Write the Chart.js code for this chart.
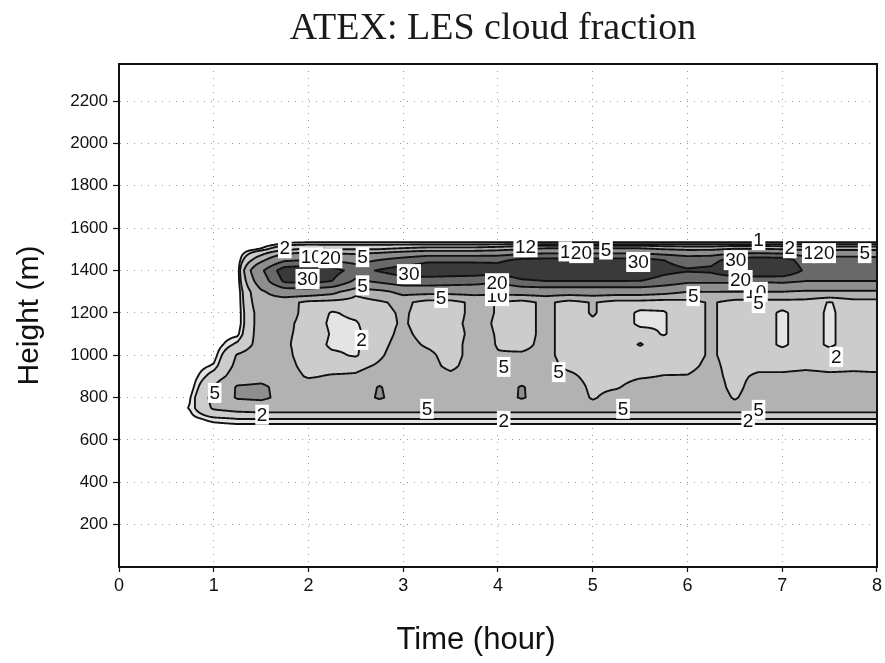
<!DOCTYPE html>
<html>
<head>
<meta charset="utf-8">
<title>ATEX: LES cloud fraction</title>
<script src="https://cdn.jsdelivr.net/npm/chart.js@4.4.1/dist/chart.umd.min.js"></script>
<style>
  html, body { margin: 0; padding: 0; background: #fff; }
</style>
</head>
<body>
<canvas id="cfChart" width="885" height="663"></canvas>
<script>
// LES output times (hour)
const timesHr = [0.5, 0.75, 1, 1.25, 1.5, 1.75, 2, 2.25, 2.5, 2.75, 3, 3.25, 3.5, 3.75, 4,
  4.25, 4.5, 4.75, 5, 5.25, 5.5, 5.75, 6, 6.25, 6.5, 6.75, 7, 7.25, 7.5, 7.75, 8];

// model levels (m)
const heightsM = [650, 700, 750, 800, 850, 900, 950, 1000, 1050, 1100, 1150, 1200,
  1250, 1300, 1350, 1400, 1450, 1500, 1525, 1550];

// cloud fraction (%), one column per time, levels bottom -> top
const cloudFraction = [
  [0, 0, 0, 0, 0, 0, 0, 0, 0, 0, 0, 0, 0, 0, 0, 0, 0, 0, 0, 0],
  [0, 0.5, 1.1, 0.9, 0.2, 0, 0, 0, 0, 0, 0, 0, 0, 0, 0, 0, 0, 0, 0, 0],
  [0, 1.5, 5.5, 6.2, 5.2, 3, 1.2, 0.3, 0, 0, 0, 0, 0, 0, 0, 0, 0, 0, 0, 0],
  [0, 2, 6.5, 10.5, 10.5, 7, 6, 5.3, 2.5, 0.6, 0, 0, 0, 0, 0, 0, 0, 0, 0, 0],
  [0, 2, 7, 11, 11, 8, 7, 7, 6.5, 7, 7, 7, 8, 9, 14, 18, 8, 1.2, 0, 0],
  [0, 2, 7, 8.5, 8, 7, 6.5, 6, 5.5, 5.5, 6, 7, 6.5, 14, 32, 36, 18, 4, 1.3, 0],
  [0, 2, 7, 8, 7.5, 4.5, 3.5, 3, 3.5, 4, 3.5, 3.5, 4, 14, 34, 38, 20, 6, 1.5, 0],
  [0, 2, 7, 8, 7, 5.5, 3, 2.5, 1.5, 1.7, 1.5, 1.8, 3.5, 12, 30, 34, 18, 5, 1.5, 0],
  [0, 2, 7, 8, 7.5, 5.5, 4, 1.7, 1.6, 1.5, 1.8, 2.5, 3.5, 6, 18, 26, 16, 5, 1.5, 0],
  [0, 2, 7, 10.5, 10.3, 7, 5.5, 4.5, 4, 3.5, 3.5, 4, 4.5, 8, 22, 31, 20, 5, 1.5, 0],
  [0, 2, 7, 8, 7.5, 7, 7, 7, 6.5, 6, 5.5, 5.5, 6, 12, 26, 35, 24, 6, 1.5, 0],
  [0, 2, 7, 8, 7.5, 7, 6.5, 6, 4.5, 3.5, 3, 3.5, 3.5, 12, 26, 36, 28, 7, 1.5, 0],
  [0, 2, 7, 8, 7.5, 6, 4, 3.5, 3.5, 3.5, 4, 3.5, 3.5, 12, 25, 36, 28, 7, 1.5, 0],
  [0, 2, 7, 8, 7.5, 7, 7, 6.5, 6.5, 6, 6, 6, 6, 12, 24, 36, 28, 7, 1.5, 0],
  [0, 2, 7, 8, 7.5, 7, 6, 5.2, 4.8, 4.8, 4.6, 4.8, 4.8, 12, 21, 35, 28, 8, 1.5, 0],
  [0, 2, 7, 10.4, 10.4, 7, 6, 5.5, 4, 3.5, 3.5, 3.5, 3.5, 13, 28, 40, 32, 10, 1.5, 0],
  [0, 2, 7, 8, 7.5, 7, 6.5, 6, 6, 6, 6, 6, 6, 13, 30, 40, 33, 12, 1.5, 0],
  [0, 2, 7, 8, 7.5, 6, 4, 3.5, 3.5, 3.5, 3.5, 3.5, 3.5, 13, 30, 40, 33, 12, 1.5, 0],
  [0, 2, 7, 4.5, 4, 3.5, 3.5, 3.5, 3.5, 4, 4.5, 5.3, 5.3, 13, 30, 40, 33, 12, 1.5, 0],
  [0, 2, 7, 7, 4.5, 3.5, 3.5, 3.5, 3.5, 3.5, 3.5, 3.5, 3.5, 13, 30, 40, 33, 12, 1.5, 0],
  [0, 2, 7, 8, 7, 4.5, 3.5, 3.5, 1.8, 3, 1.5, 1.5, 3.5, 13, 30, 38, 33, 12, 1.5, 0],
  [0, 2, 7, 8, 7, 5.2, 3.5, 3.5, 3.5, 1.8, 1.8, 1.8, 3, 12, 26, 33, 30, 10, 1.5, 0],
  [0, 2, 7, 8, 7, 5.2, 4, 3.5, 3.5, 3.5, 3.5, 3.5, 3.5, 10, 22, 31, 26, 9, 1.5, 0],
  [0, 2, 7, 8, 7.5, 6.5, 6, 5.5, 5.5, 5.5, 5.5, 5.5, 5.5, 10, 22, 32, 27, 9, 1.5, 0],
  [0, 2, 7, 4.5, 3.5, 3.5, 3.5, 3.5, 3.5, 3.5, 3.5, 3.5, 3.5, 10, 22, 40, 34, 11, 1.5, 0],
  [0, 2, 7, 8, 7.5, 6, 3.5, 3.5, 3.5, 3.5, 3.5, 3.5, 3.5, 10, 21, 42, 36, 11, 1.5, 0],
  [0, 2, 7, 8, 7.5, 6, 3.5, 3.5, 1.5, 1.5, 1.5, 1.5, 3.5, 10, 22, 40, 35, 10, 1.5, 0],
  [0, 2, 7, 8, 7.5, 6.5, 4, 3.5, 3.5, 3.5, 3.5, 3.5, 3.5, 9, 20, 28, 25, 9, 1.5, 0],
  [0, 2, 7, 8, 7.5, 6, 3.5, 3.5, 1.5, 1.5, 1.5, 1.5, 1.8, 9, 20, 28, 25, 9, 1.5, 0],
  [0, 2, 7, 8, 7.5, 6, 4, 3.5, 3.5, 3.5, 3.5, 3.5, 3.5, 9, 20, 28, 25, 9, 1.5, 0],
  [0, 2, 7, 8, 7.5, 6, 3.5, 3.5, 3.5, 3.5, 3.5, 3.5, 3.5, 9, 20, 28, 24, 9, 1.5, 0]
];

const contourLevels = [1, 2, 5, 10, 20, 30];

// contour labels as placed on the figure: [time, height, text]
const contourLabels = [
  [1.75, 1505, '2'], [2.03, 1463, '10'], [2.23, 1458, '20'], [2.57, 1463, '5'],
  [1.99, 1360, '30'], [2.57, 1330, '5'], [3.06, 1383, '30'], [1.01, 822, '5'],
  [1.51, 719, '2'], [2.56, 1072, '2'], [3.40, 1270, '5'], [3.25, 747, '5'],
  [3.99, 1279, '10'], [3.99, 1340, '20'], [4.06, 945, '5'], [4.06, 690, '2'],
  [4.29, 1510, '12'], [4.71, 1490, '1'], [4.88, 1482, '20'], [5.14, 1499, '5'],
  [5.48, 1440, '30'], [4.64, 920, '5'], [5.32, 747, '5'], [6.06, 1279, '5'],
  [6.75, 1543, '1'], [7.08, 1505, '2'], [7.28, 1482, '1'], [7.44, 1482, '20'],
  [7.87, 1482, '5'], [6.51, 1449, '30'], [6.72, 1300, '10'], [6.56, 1355, '20'],
  [6.75, 1246, '5'], [7.57, 992, '2'], [6.75, 742, '5'], [6.64, 690, '2']
];

const xTicks = [0, 1, 2, 3, 4, 5, 6, 7, 8];
const yTicks = [200, 400, 600, 800, 1000, 1200, 1400, 1600, 1800, 2000, 2200];

const chartTitle = 'ATEX: LES cloud fraction';
const xTitle = 'Time (hour)';
const yTitle = 'Height (m)';

// grey shades for <1, 1-2, 2-5, 5-10, 10-20, 20-30, >30
const shades = [null, [228, 228, 228], [204, 204, 204], [178, 178, 178], [142, 142, 142], [105, 105, 105], [58, 58, 58]];

function locate(arr, v) {
  if (v < arr[0] || v > arr[arr.length - 1]) return null;
  let i = 0;
  while (i < arr.length - 2 && v > arr[i + 1]) i++;
  return [i, (v - arr[i]) / (arr[i + 1] - arr[i])];
}

function bandOf(v) {
  let k = 0;
  for (const lev of contourLevels) if (v >= lev) k++;
  return k;
}

const contourPlugin = {
  id: 'contourField',
  beforeDatasetsDraw(chart) {
    const { ctx, chartArea, scales: { x, y } } = chart;
    const x0 = Math.floor(x.getPixelForValue(timesHr[0]));
    const x1 = Math.ceil(chartArea.right);
    const yTop = Math.floor(y.getPixelForValue(heightsM[heightsM.length - 1])) - 1;
    const yBot = Math.ceil(y.getPixelForValue(heightsM[0])) + 1;
    const w = x1 - x0, h = yBot - yTop;

    // bilinear sample of the grid at each pixel centre
    const colLoc = [], rowLoc = [];
    for (let c = 0; c < w; c++) colLoc.push(locate(timesHr, x.getValueForPixel(x0 + c + 0.5)));
    for (let r = 0; r < h; r++) rowLoc.push(locate(heightsM, y.getValueForPixel(yTop + r + 0.5)));
    const vals = new Float32Array(w * h);
    for (let r = 0; r < h; r++) {
      const b = rowLoc[r];
      for (let c = 0; c < w; c++) {
        const a = colLoc[c];
        if (!a || !b) continue;
        const [i, fx] = a, [j, fy] = b;
        const c0 = cloudFraction[i], c1 = cloudFraction[i + 1];
        vals[r * w + c] = (c0[j] * (1 - fx) + c1[j] * fx) * (1 - fy) +
                          (c0[j + 1] * (1 - fx) + c1[j + 1] * fx) * fy;
      }
    }

    // shaded bands
    const off = document.createElement('canvas');
    off.width = w; off.height = h;
    const octx = off.getContext('2d');
    const img = octx.createImageData(w, h);
    for (let p = 0; p < w * h; p++) {
      const s = shades[bandOf(vals[p])];
      if (!s) continue;
      img.data[p * 4] = s[0]; img.data[p * 4 + 1] = s[1];
      img.data[p * 4 + 2] = s[2]; img.data[p * 4 + 3] = 255;
    }
    octx.putImageData(img, 0, 0);
    ctx.save();
    ctx.beginPath();
    ctx.rect(chartArea.left, chartArea.top, chartArea.right - chartArea.left, chartArea.bottom - chartArea.top);
    ctx.clip();
    ctx.drawImage(off, x0, yTop);

    // contour lines (marching squares on the sampled field)
    ctx.strokeStyle = '#111';
    ctx.lineWidth = 1.9;
    ctx.lineCap = 'round';
    ctx.lineJoin = 'round';
    for (const lev of contourLevels) {
      ctx.beginPath();
      for (let r = 0; r < h - 1; r++) {
        for (let c = 0; c < w - 1; c++) {
          const tl = vals[r * w + c], tr = vals[r * w + c + 1];
          const bl = vals[(r + 1) * w + c], br = vals[(r + 1) * w + c + 1];
          let idx = 0;
          if (tl >= lev) idx |= 8;
          if (tr >= lev) idx |= 4;
          if (br >= lev) idx |= 2;
          if (bl >= lev) idx |= 1;
          if (idx === 0 || idx === 15) continue;
          const px = x0 + c + 0.5, py = yTop + r + 0.5;
          const T = () => [px + (lev - tl) / (tr - tl), py];
          const R = () => [px + 1, py + (lev - tr) / (br - tr)];
          const B = () => [px + (lev - bl) / (br - bl), py + 1];
          const L = () => [px, py + (lev - tl) / (bl - tl)];
          const seg = (p, q) => { ctx.moveTo(p[0], p[1]); ctx.lineTo(q[0], q[1]); };
          switch (idx) {
            case 1: case 14: seg(L(), B()); break;
            case 2: case 13: seg(B(), R()); break;
            case 3: case 12: seg(L(), R()); break;
            case 4: case 11: seg(T(), R()); break;
            case 6: case 9: seg(T(), B()); break;
            case 7: case 8: seg(T(), L()); break;
            case 5: seg(T(), L()); seg(B(), R()); break;
            case 10: seg(T(), R()); seg(L(), B()); break;
          }
        }
      }
      ctx.stroke();
    }
    ctx.restore();
  },
  afterDatasetsDraw(chart) {
    const { ctx, scales: { x, y } } = chart;
    ctx.save();
    ctx.font = '19px "Liberation Sans", Arial, sans-serif';
    ctx.textAlign = 'center';
    ctx.textBaseline = 'middle';
    contourLabels.forEach(([t, z, txt]) => {
      const px = x.getPixelForValue(t), py = y.getPixelForValue(z);
      const tw = ctx.measureText(txt).width;
      ctx.fillStyle = '#fff';
      ctx.fillRect(px - tw / 2 - 1.5, py - 10, tw + 3, 20);
      ctx.fillStyle = '#111';
      ctx.fillText(txt, px, py + 1);
    });
    ctx.restore();
  },
  afterDraw(chart) {
    const { ctx, chartArea: a } = chart;
    ctx.save();
    ctx.strokeStyle = '#111';
    ctx.lineWidth = 2;
    ctx.strokeRect(a.left, a.top, a.right - a.left, a.bottom - a.top);
    // figure title and x-axis title
    ctx.fillStyle = '#1a1a1a';
    ctx.textAlign = 'center';
    ctx.textBaseline = 'middle';
    ctx.font = '38px "Liberation Serif", "Times New Roman", serif';
    ctx.fillText(chartTitle, 493, 29);
    ctx.fillStyle = '#111';
    ctx.font = '31px "Liberation Sans", Arial, sans-serif';
    ctx.fillText(xTitle, 476, 640);
    ctx.restore();
  }
};

const sans = '"Liberation Sans", Arial, Helvetica, sans-serif';

new Chart(document.getElementById('cfChart'), {
  type: 'scatter',
  data: { datasets: [{ data: [], pointRadius: 0 }] },
  options: {
    responsive: false,
    animation: false,
    events: [],
    layout: { padding: { left: 0, right: 6, top: 64, bottom: 0 } },
    plugins: {
      legend: { display: false },
      tooltip: { enabled: false },
      title: { display: false }
    },
    scales: {
      x: {
        type: 'linear',
        min: 0,
        max: 8,
        afterBuildTicks: s => { s.ticks = xTicks.map(v => ({ value: v })); },
        afterFit: s => { s.height = 96; },
        ticks: { color: '#111', font: { family: sans, size: 18 }, padding: 3, maxRotation: 0 },
        grid: { color: '#9a9a9a', lineWidth: 1, tickColor: '#111', tickLength: 5, tickWidth: 1.2 },
        border: { display: true, color: '#111', width: 2, dash: [1, 6] }
      },
      y: {
        type: 'linear',
        min: 0,
        max: 2375,
        afterBuildTicks: s => { s.ticks = yTicks.map(v => ({ value: v })); },
        afterFit: s => { s.width = 119; },
        ticks: { color: '#111', font: { family: sans, size: 17 }, padding: 5, callback: v => String(v) },
        grid: { color: '#9a9a9a', lineWidth: 1, tickColor: '#111', tickLength: 6, tickWidth: 1.2 },
        border: { display: true, color: '#111', width: 2, dash: [1, 6] },
        title: { display: true, text: yTitle, color: '#111', font: { family: sans, size: 30 }, padding: { top: 12, bottom: 0 } }
      }
    }
  },
  plugins: [contourPlugin]
});
</script>
</body>
</html>
